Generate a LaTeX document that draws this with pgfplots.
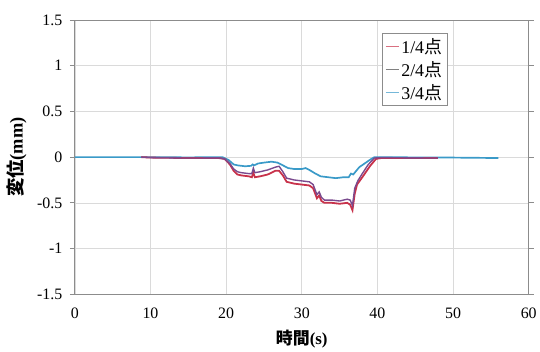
\documentclass[border=0pt]{standalone}
\usepackage{pgfplots}
\pgfplotsset{compat=1.18}
\usepackage{fontspec}
\setmainfont{Liberation Serif}
\newfontfamily\cjk{Noto Sans CJK JP}
\definecolor{s1}{HTML}{C8324B}
\definecolor{s2}{HTML}{7A4A8E}
\definecolor{s3}{HTML}{3A9AC8}
\definecolor{gridc}{HTML}{DADADA}
\definecolor{axc}{HTML}{8C8C8C}
\begin{document}
\begin{tikzpicture}
\begin{axis}[
  name=ax,
  width=455bp, height=275bp, scale only axis,
  xmin=0, xmax=60, ymin=-1.5, ymax=1.5,
  xtick={0,10,...,60}, ytick={-1.5,-1,...,1.5},
  grid=major, major grid style={gridc, line width=0.6pt},
  axis line style={axc, line width=0.9pt},
  xtick style={draw=none},
  ytick style={axc, line width=0.9pt},
  tick align=outside, major tick length=5bp,
  /pgf/number format/assume math mode=true,
  /pgf/number format/fixed,
  scaled ticks=false,
  ticklabel style={font=\fontsize{16}{18}\selectfont},
  xticklabel style={yshift=-5bp},
  yticklabel style={xshift=-4bp},
  xlabel={{\bfseries\cjk 時間}{\bfseries (s)}},
  ylabel={{\bfseries\cjk 変位}{\bfseries (mm)}},
  xlabel style={at={(axis description cs:0.5,-0.165)}, anchor=center, font=\fontsize{17}{19}\selectfont},
  ylabel style={at={(axis description cs:-0.128,0.5)}, anchor=center, rotate=0, font=\fontsize{18.5}{20}\selectfont},
  legend style={at={(rel axis cs:0.677,0.953)}, anchor=north west, draw=axc, line width=0.9pt,
    font=\fontsize{18}{20}\selectfont, row sep=2.5bp, inner xsep=3bp, inner ysep=3bp},
  legend cell align=left,
  legend image code/.code={\draw[#1, line width=0.8pt] (0bp,0bp) -- (13bp,0bp);},
]
\addlegendimage{color=s1!70!white}
\addlegendentry{1/4{\cjk 点}}
\addlegendimage{color=gray}
\addlegendentry{2/4{\cjk 点}}
\addlegendimage{color=s3!70!white}
\addlegendentry{3/4{\cjk 点}}

% 3/4 point (blue)
\addplot[s3, line width=1.7pt, forget plot] coordinates {
(0,0) (5,0) (10,0) (15,-0.003) (19.5,0) (20.3,-0.03) (21,-0.08) (21.5,-0.09)
(22.5,-0.1) (23.3,-0.095) (23.5,-0.08) (23.7,-0.09) (24.2,-0.07) (25,-0.06) (26,-0.05) (26.8,-0.06)
(27.5,-0.09) (28.2,-0.12) (29,-0.13) (30,-0.13) (30.5,-0.12) (31,-0.14) (31.8,-0.18) (32.5,-0.21)
(33.5,-0.22) (34.5,-0.23) (35.5,-0.22) (36.2,-0.22) (36.5,-0.18) (36.8,-0.19) (37.2,-0.15)
(37.6,-0.11) (38.3,-0.07) (39,-0.03) (39.6,0) (45,-0.003) (50,-0.005) (56,-0.01)
};
% 1/4 point (red)
\addplot[s1, line width=1.8pt, forget plot] coordinates {
(8.8,0) (10,-0.005) (15,-0.01) (19,-0.01) (19.8,-0.02) (20.5,-0.08) (21,-0.15)
(21.5,-0.19) (22,-0.2) (23,-0.21) (23.4,-0.22) (23.6,-0.17) (23.8,-0.22) (24.5,-0.21)
(25.5,-0.19) (26.5,-0.15) (27,-0.15) (27.5,-0.2) (28,-0.27) (29,-0.29) (30,-0.3)
(31,-0.31) (31.5,-0.34) (32,-0.45) (32.3,-0.42) (32.6,-0.48) (33,-0.5) (34,-0.5)
(35,-0.51) (36,-0.5) (36.4,-0.52) (36.7,-0.58) (37,-0.4) (37.3,-0.3) (38,-0.22)
(39,-0.1) (39.8,-0.02) (40.5,-0.01) (44,-0.01) (48,-0.01)
};
% 2/4 point (purple)
\addplot[s2, line width=1.4pt, forget plot] coordinates {
(8.8,0) (10,-0.005) (15,-0.01) (19,-0.008) (19.8,-0.02) (20.5,-0.07) (21,-0.13)
(21.5,-0.16) (22,-0.17) (23,-0.18) (23.4,-0.18) (23.6,-0.12) (23.8,-0.17) (24.5,-0.16)
(25.5,-0.14) (26.5,-0.11) (27,-0.1) (27.5,-0.16) (28,-0.23) (29,-0.25) (30,-0.26)
(31,-0.27) (31.5,-0.3) (32,-0.41) (32.3,-0.38) (32.6,-0.44) (33,-0.47) (34,-0.47)
(35,-0.48) (36,-0.46) (36.4,-0.47) (36.7,-0.53) (37,-0.34) (37.4,-0.26) (38,-0.18)
(38.8,-0.08) (39.6,-0.01) (40.5,-0.005) (44,-0.008) (48,-0.01)
};
\end{axis}
\path ([shift={(-75bp,-56bp)}]ax.south west) rectangle ([shift={(10bp,20bp)}]ax.north east);
\end{tikzpicture}
\end{document}
